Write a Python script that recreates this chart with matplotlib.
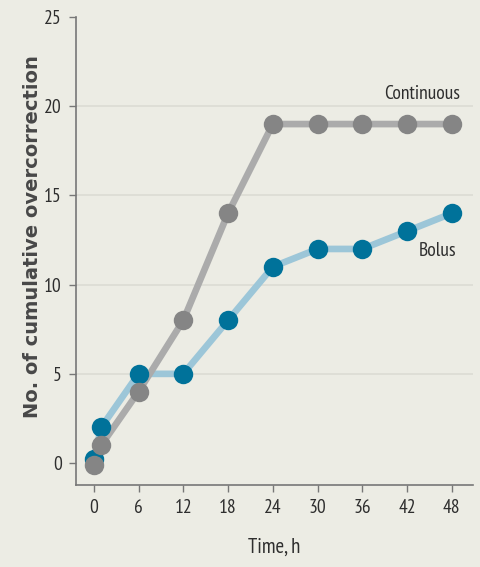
import matplotlib
matplotlib.use("Agg")
import matplotlib.pyplot as plt

# Data
time_h = [0, 1, 6, 12, 18, 24, 30, 36, 42, 48]
continuous = [-0.1, 1, 4, 8, 14, 19, 19, 19, 19, 19]
bolus = [0.2, 2, 5, 5, 8, 11, 12, 12, 13, 14]
xticks = [0, 6, 12, 18, 24, 30, 36, 42, 48]
yticks = [0, 5, 10, 15, 20, 25]

narrow = "PT Sans Narrow"
txt = "#2e2e2e"
bg = "#ecece4"

fig = plt.figure(figsize=(4.8, 5.67), dpi=100, facecolor=bg)
ax = fig.add_axes([0.158, 0.1446, 0.827, 0.8254], facecolor=bg)

for y in yticks[1:-1]:
    ax.axhline(y, color="#dcdcd4", lw=1.2, zorder=0)

# lines first, then markers
ax.plot(time_h, bolus, color="#9cc6d8", lw=4.8, solid_capstyle="round", zorder=1)
ax.plot(time_h, continuous, color="#ababab", lw=4.8, solid_capstyle="round", zorder=2)
ax.plot(time_h, bolus, "o", color="#00729a", ms=14, mec="none", zorder=3)
ax.plot(time_h, continuous, "o", color="#858585", ms=14, mec="none", zorder=4)

ax.text(44, 20.7, "Continuous", ha="center", va="center", fontsize=14,
        family=narrow, color=txt)
ax.text(46.1, 11.9, "Bolus", ha="center", va="center", fontsize=14,
        family=narrow, color=txt)

ax.set_xlim(-2.4, 50.8)
ax.set_ylim(-1.23, 25)
ax.set_xticks(xticks)
ax.set_yticks(yticks)
for lab in ax.get_xticklabels() + ax.get_yticklabels():
    lab.set_family(narrow)
    lab.set_fontsize(14)
    lab.set_color(txt)
ax.tick_params(direction="out", length=5, width=1, color="#777777", pad=5)

for s in ["top", "right"]:
    ax.spines[s].set_visible(False)
for s in ["left", "bottom"]:
    ax.spines[s].set_color("#777777")
    ax.spines[s].set_linewidth(1.2)

ax.set_xlabel("Time, h", fontsize=15, family=narrow, color=txt)
ax.xaxis.set_label_coords(0.5, -0.113)
ax.set_ylabel("No. of cumulative overcorrection", fontsize=14, fontweight="bold",
              family="DejaVu Sans", color="#484848")
ax.yaxis.set_label_coords(-0.085, 0.53)

fig.savefig("out.png", dpi=100, facecolor=bg)
